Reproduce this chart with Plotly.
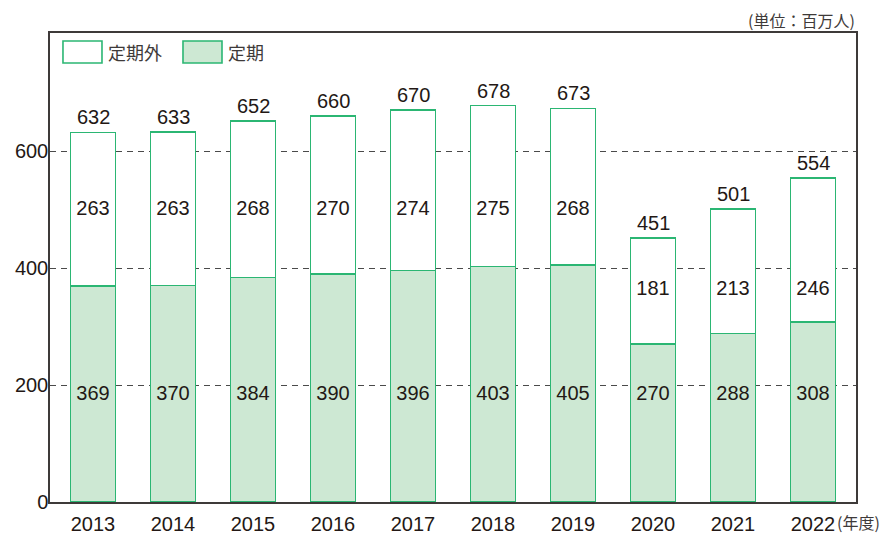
import plotly.graph_objects as go

years = ["2013", "2014", "2015", "2016", "2017", "2018", "2019", "2020", "2021", "2022"]
regular = [369, 370, 384, 390, 396, 403, 405, 270, 288, 308]
non_regular = [263, 263, 268, 270, 274, 275, 268, 181, 213, 246]
totals = [632, 633, 652, 660, 670, 678, 673, 451, 501, 554]
# heights (in data units) at which the segment values are printed in the reference
regular_label_y = [183, 183, 183, 183, 183, 183, 183, 183, 183, 183]
non_regular_label_y = [499, 499, 499, 499, 499, 499, 499, 362, 362, 362]
y_ticks = [0, 200, 400, 600]
legend_labels = ["定期外", "定期"]
unit_label = "(単位：百万人)"
x_unit_label = "(年度)"

GREEN = "#2bb673"
FILL = "#cde8d3"
TXT = "#231815"
AX = "#3e3a39"
NUM_FONT = "Liberation Sans, Arial, sans-serif"
JP_FONT = "Noto Sans CJK JP, sans-serif"
NUM_SIZE = 20

fig = go.Figure()
fig.add_trace(go.Bar(
    x=years, y=regular, name=legend_labels[1],
    marker=dict(color=FILL, line=dict(color=GREEN, width=1.6)),
    width=0.5625, showlegend=False, hoverinfo="x+y",
))
fig.add_trace(go.Bar(
    x=years, y=non_regular, name=legend_labels[0],
    marker=dict(color="white", line=dict(color=GREEN, width=1.6)),
    width=0.5625, showlegend=False, hoverinfo="x+y",
))
fig.add_trace(go.Scatter(
    x=years, y=regular_label_y, mode="text", text=[str(v) for v in regular],
    textposition="middle center", textfont=dict(size=NUM_SIZE, color=TXT, family=NUM_FONT),
    showlegend=False, hoverinfo="skip",
))
fig.add_trace(go.Scatter(
    x=years, y=non_regular_label_y, mode="text", text=[str(v) for v in non_regular],
    textposition="middle center", textfont=dict(size=NUM_SIZE, color=TXT, family=NUM_FONT),
    showlegend=False, hoverinfo="skip",
))
for i, t in enumerate(totals):
    fig.add_annotation(x=i, y=t, text=str(t), showarrow=False, yanchor="bottom", yshift=2,
                       font=dict(size=NUM_SIZE, color=TXT, family=NUM_FONT))

# legend drawn as shapes + annotations
sw = [(0.0161, 0.0645, "white"), (0.165, 0.2134, FILL)]
for (x0, x1, col), lab, tx in zip(sw, legend_labels, [0.0695, 0.2185]):
    fig.add_shape(type="rect", xref="paper", yref="paper", x0=x0, x1=x1, y0=0.936, y1=0.983,
                  line=dict(color=GREEN, width=1.6), fillcolor=col, layer="above")
    fig.add_annotation(xref="paper", yref="paper", x=tx, y=0.9595, text=lab, showarrow=False,
                       xanchor="left", yanchor="middle",
                       font=dict(size=18, color=AX, family=JP_FONT))

fig.add_annotation(xref="paper", yref="paper", x=1.0, y=1.0, yshift=0, text=unit_label,
                   showarrow=False, xanchor="right", yanchor="bottom", borderpad=0,
                   font=dict(size=16, color=AX, family=JP_FONT))
fig.add_annotation(xref="paper", yref="paper", x=0.975, y=0, yshift=-20, text=x_unit_label,
                   showarrow=False, xanchor="left", yanchor="middle", borderpad=0,
                   font=dict(size=16, color=AX, family=JP_FONT))

# page body has an 8px margin, so the figure is sized/offset to land at the reference position
fig.update_layout(
    width=875, height=526,
    margin=dict(l=42, r=27, t=25, b=32),
    barmode="stack", bargap=0.4375,
    plot_bgcolor="white", paper_bgcolor="white",
    xaxis=dict(type="category", range=[-0.5375, 9.5375], showline=True, linecolor=AX,
               linewidth=1.5, mirror=True, ticks="", showgrid=False, automargin=False,
               ticklabelstandoff=3,
               tickfont=dict(size=NUM_SIZE, color=TXT, family=NUM_FONT)),
    yaxis=dict(range=[0, 802], tickvals=y_ticks, showline=True, linecolor=AX, linewidth=1.5,
               mirror=True, ticks="", ticklabelstandoff=-4, showgrid=True,
               gridcolor="#4a4a4a", griddash="6px,5px", gridwidth=1, zeroline=False,
               automargin=False,
               tickfont=dict(size=NUM_SIZE, color=TXT, family=NUM_FONT)),
)
fig.write_html("out.html")
